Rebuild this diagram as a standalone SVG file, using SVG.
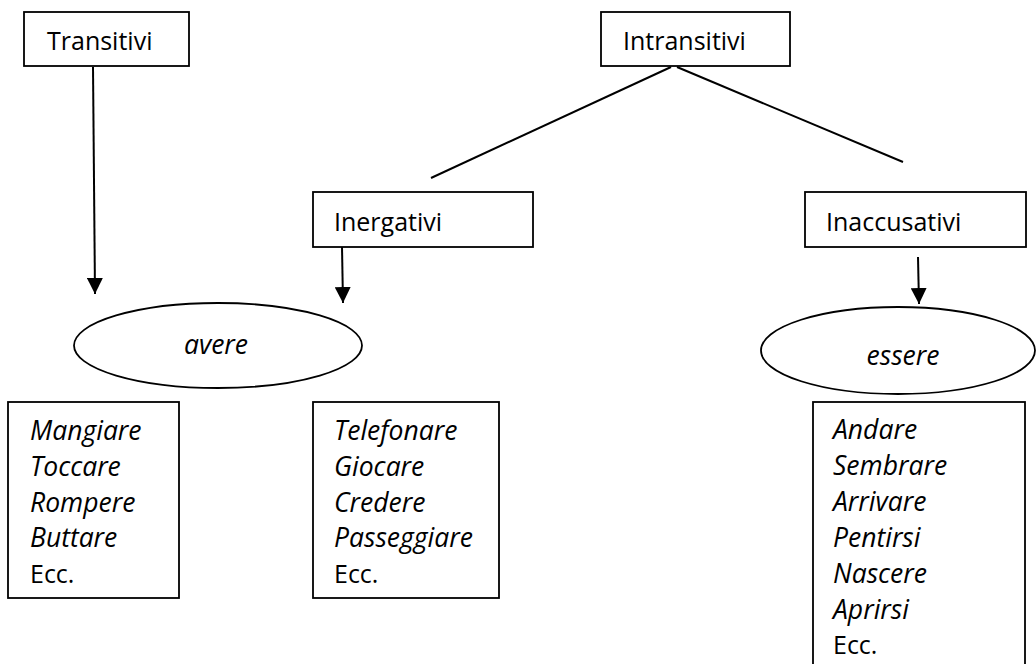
<svg xmlns="http://www.w3.org/2000/svg" width="1036" height="664" viewBox="0 0 1036 664">
  <style>
    .box { fill: #ffffff; stroke: #000000; stroke-width: 1.8; }
    .ell { fill: #ffffff; stroke: #000000; stroke-width: 1.8; }
    .lbl { font-family: "Open Sans", "Liberation Sans", sans-serif; font-size: 25px; fill: #000000; }
    .it { font-style: italic; font-size: 26.5px; }
    .conn { stroke: #000000; stroke-width: 2; fill: none; }
  </style>
  <defs>
    <marker id="arrow" viewBox="0 0 16 16" refX="16" refY="8" markerWidth="16" markerHeight="16" markerUnits="userSpaceOnUse" orient="auto">
      <path d="M0,0 L16,8 L0,16 z" fill="#000000"/>
    </marker>
  </defs>
  <rect width="1036" height="664" fill="#ffffff"/>

  <g id="connectors">
    <line class="conn" x1="93" y1="67" x2="95" y2="294" marker-end="url(#arrow)"/>
    <line class="conn" x1="342" y1="247" x2="343" y2="303" marker-end="url(#arrow)"/>
    <line class="conn" x1="918" y1="257" x2="919" y2="304" marker-end="url(#arrow)"/>
    <line class="conn" x1="671" y1="67" x2="431" y2="178"/>
    <line class="conn" x1="677" y1="67" x2="903" y2="162"/>
  </g>

  <g id="transitivi">
    <rect class="box" x="24" y="12" width="165" height="54"/>
    <text class="lbl" x="47" y="50">Transitivi</text>
  </g>

  <g id="intransitivi">
    <rect class="box" x="601" y="12" width="189" height="54"/>
    <text class="lbl" x="623" y="50">Intransitivi</text>
  </g>

  <g id="inergativi">
    <rect class="box" x="313" y="192" width="220" height="55"/>
    <text class="lbl" x="334" y="231">Inergativi</text>
  </g>

  <g id="inaccusativi">
    <rect class="box" x="805" y="192" width="221" height="55"/>
    <text class="lbl" x="826" y="231">Inaccusativi</text>
  </g>

  <g id="avere">
    <ellipse class="ell" cx="218" cy="345.5" rx="144" ry="42.5"/>
    <text class="lbl it" x="216" y="354" text-anchor="middle">avere</text>
  </g>

  <g id="essere">
    <ellipse class="ell" cx="898" cy="350.5" rx="137" ry="43.5"/>
    <text class="lbl it" x="903" y="365" text-anchor="middle">essere</text>
  </g>

  <g id="list-transitivi">
    <rect class="box" x="8" y="402" width="171" height="196"/>
    <text class="lbl it" x="30" y="440">Mangiare</text>
    <text class="lbl it" x="30" y="476">Toccare</text>
    <text class="lbl it" x="30" y="512">Rompere</text>
    <text class="lbl it" x="30" y="547">Buttare</text>
    <text class="lbl" x="30" y="583">Ecc.</text>
  </g>

  <g id="list-inergativi">
    <rect class="box" x="313" y="402" width="186" height="196"/>
    <text class="lbl it" x="334" y="440">Telefonare</text>
    <text class="lbl it" x="334" y="476">Giocare</text>
    <text class="lbl it" x="334" y="512">Credere</text>
    <text class="lbl it" x="334" y="547">Passeggiare</text>
    <text class="lbl" x="334" y="583">Ecc.</text>
  </g>

  <g id="list-inaccusativi">
    <rect class="box" x="813" y="402" width="212" height="270"/>
    <text class="lbl it" x="833" y="439">Andare</text>
    <text class="lbl it" x="833" y="475">Sembrare</text>
    <text class="lbl it" x="833" y="511">Arrivare</text>
    <text class="lbl it" x="833" y="547">Pentirsi</text>
    <text class="lbl it" x="833" y="583">Nascere</text>
    <text class="lbl it" x="833" y="619">Aprirsi</text>
    <text class="lbl" x="833" y="654">Ecc.</text>
  </g>
</svg>
